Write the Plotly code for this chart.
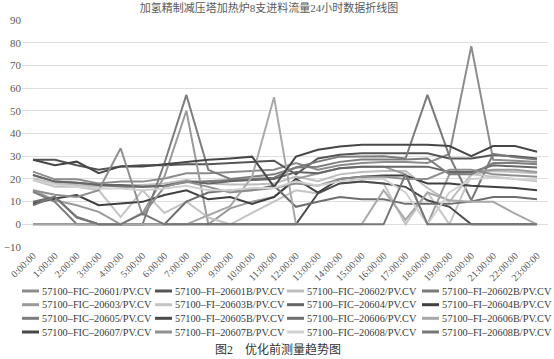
import plotly.graph_objects as go

# ---------------- data ----------------
hours = ["0:00:00", "1:00:00", "2:00:00", "3:00:00", "4:00:00", "5:00:00",
         "6:00:00", "7:00:00", "8:00:00", "9:00:00", "10:00:00", "11:00:00",
         "12:00:00", "13:00:00", "14:00:00", "15:00:00", "16:00:00", "17:00:00",
         "18:00:00", "19:00:00", "20:00:00", "21:00:00", "22:00:00", "23:00:00"]

series_names = [
    "57100–FIC–20601/PV.CV", "57100–FI–20601B/PV.CV", "57100–FIC–20602/PV.CV", "57100–FI–20602B/PV.CV",
    "57100–FIC–20603/PV.CV", "57100–FI–20603B/PV.CV", "57100–FIC–20604/PV.CV", "57100–FI–20604B/PV.CV",
    "57100–FIC–20605/PV.CV", "57100–FI–20605B/PV.CV", "57100–FIC–20606/PV.CV", "57100–FI–20606B/PV.CV",
    "57100–FIC–20607/PV.CV", "57100–FI–20607B/PV.CV", "57100–FIC–20608/PV.CV", "57100–FI–20608B/PV.CV",
]

FIC_20601 = [23.2, 19.8, 19.8, 18, 18.8, 18.8, 20.2, 22.5, 22.5, 23, 23.5, 24, 27, 24, 26, 27, 27.5, 27.5, 27, 31, 78.5, 28.4, 28, 27.5]
FI_20601B = [28.4, 28.4, 26, 24, 25.5, 26, 26, 26.5, 26.5, 27, 27.5, 28, 22, 29, 30.6, 31.3, 31.3, 31.3, 31.3, 29, 29, 30.5, 30, 29]
FIC_20602 = [20.2, 18, 17.3, 16.5, 17.3, 17.3, 18, 19.5, 18, 17.5, 17.5, 18, 21, 19, 22, 23, 23.5, 23.5, 16, 10, 22, 23.5, 23, 22.5]
FI_20602B = [21.7, 18.8, 18.3, 17.3, 16.5, 16.5, 17, 18.5, 19, 19.5, 20, 20.5, 25, 27.6, 29.8, 30, 30, 29, 57, 30, 10.6, 31, 29.5, 28.5]
FIC_20603 = [15, 10.6, 8.4, 5.5, 0, 5, 21, 50, 0, 7, 10, 12, 20, 22.5, 24.7, 25.4, 25.4, 22, 0, 22, 23, 24, 24, 23]
FI_20603B = [19.5, 16.5, 16.5, 15, 3.2, 15, 5, 10, 3, 0, 5, 10, 15, 13.6, 18, 18.8, 18, 0, 14, 0, 22, 21, 20, 19]
FIC_20604 = [21.7, 18.8, 18.3, 17.3, 17.3, 16.5, 17, 18.8, 18, 19, 19.5, 20, 23, 22.5, 24.7, 25.4, 25.4, 25.4, 25.4, 23, 23, 26, 25.5, 25]
FI_20604B = [9.2, 11.4, 12.9, 8.4, 9.2, 9.9, 12.9, 15, 11, 12, 9, 12, 20, 14, 20, 21, 21.5, 21.5, 18, 18, 17, 16.5, 16, 15]
FIC_20605 = [14.3, 9.9, 0, 0, 0, 0, 27, 57, 24, 20, 21, 22, 25, 25.4, 27.5, 28.5, 28.5, 28.5, 29, 22, 22, 27, 27, 26.5]
FI_20605B = [0, 0, 0, 0, 0, 0, 0, 0, 0, 0, 0, 0, 0, 13.6, 18, 18.8, 18, 16.5, 10.6, 7.7, 0, 0, 0, 0]
FIC_20606 = [9.9, 12.1, 3.2, 0, 0, 0, 0, 10, 14, 15, 15, 17, 7.7, 9.9, 12, 11, 11, 9, 9, 9, 10, 12, 12, 11]
FI_20606B = [0, 0, 0, 0, 0, 0, 0, 0, 4, 8, 21, 56, 0, 0, 0, 0, 15, 2, 14, 10.6, 9.9, 9.9, 4.7, 0]
FIC_20607 = [28.4, 26, 27.6, 22.5, 25.5, 25.5, 26.5, 27.6, 28.4, 29, 29.8, 16.5, 29.8, 32.8, 34.3, 35, 35, 35, 35, 34.5, 30, 34.5, 34.5, 32]
FI_20607B = [15, 13, 12, 15, 33.5, 4, 16.5, 18.8, 16.5, 14, 15, 16, 18, 17, 20, 21, 21, 20, 20, 24, 24, 22, 21.5, 21]
FIC_20608 = [19.5, 17.5, 16.5, 15.8, 15.8, 15, 15.8, 17, 15, 15, 16, 16, 19, 17, 19, 20, 20, 14, 0, 14, 20, 20.5, 20, 19.5]
FI_20608B = [8.4, 12.1, 3, 0, 0, 4.7, 0, 0, 0, 0, 0, 0, 0, 0, 0, 0, 0, 22, 0, 0, 0, 0, 0, 0]

series_values = [FIC_20601, FI_20601B, FIC_20602, FI_20602B,
                 FIC_20603, FI_20603B, FIC_20604, FI_20604B,
                 FIC_20605, FI_20605B, FIC_20606, FI_20606B,
                 FIC_20607, FI_20607B, FIC_20608, FI_20608B]

# ---------------- style ----------------
colors = ["#8c8c8c", "#555555", "#bdbdbd", "#7a7a7a",
          "#9a9a9a", "#c4c4c4", "#666666", "#3f3f3f",
          "#7d7d7d", "#4a4a4a", "#6e6e6e", "#a8a8a8",
          "#474747", "#8f8f8f", "#d0d0d0", "#777777"]

W, H = 554, 359
ML, MR, MT, MB = 22, 6, 20, 112
PW, PH = W - ML - MR, H - MT - MB
FONT = "Liberation Serif, Times New Roman, Noto Sans CJK SC, serif"

fig = go.Figure()
for name, vals, col in zip(series_names, series_values, colors):
    fig.add_trace(go.Scatter(x=hours, y=vals, mode="lines", name=name,
                             line=dict(color=col, width=2), showlegend=False))

# custom 4x4 legend (rows filled left to right)
text_px = [40, 173, 305, 440]
row_px = [291, 304.7, 318.3, 332]
shapes, annotations = [], []
for k, (name, col) in enumerate(zip(series_names, colors)):
    r, c = divmod(k, 4)
    x1 = (text_px[c] - 1 - ML) / PW
    x0 = (text_px[c] - 18 - ML) / PW
    yy = (MT + PH - row_px[r]) / PH
    shapes.append(dict(type="line", xref="paper", yref="paper", x0=x0, x1=x1, y0=yy, y1=yy,
                       line=dict(color=col, width=3)))
    annotations.append(dict(xref="paper", yref="paper", x=(text_px[c] - ML) / PW, y=yy,
                            xanchor="left", yanchor="middle", text=name, showarrow=False,
                            font=dict(size=10.3, color="#3a3a3a", family=FONT)))

annotations.append(dict(xref="paper", yref="paper", x=(278 - ML) / PW, y=(MT + PH - 349) / PH,
                        xanchor="center", yanchor="middle", showarrow=False,
                        text="图2　优化前测量趋势图",
                        font=dict(size=12, color="#333333", family=FONT)))

fig.update_layout(
    width=W, height=H,
    margin=dict(l=ML, r=MR, t=MT, b=MB, autoexpand=False),
    paper_bgcolor="white", plot_bgcolor="white",
    font=dict(family=FONT, color="#595959"),
    title=dict(text="加氢精制减压塔加热炉8支进料流量24小时数据折线图",
               x=269 / W, xanchor="center", y=1 - 8 / H, yanchor="middle",
               font=dict(size=11, color="#595959", family=FONT)),
    xaxis=dict(type="category", range=[-0.5, 23.5], tickangle=-45, automargin=False,
               tickfont=dict(size=10, color="#595959"), showgrid=False,
               showline=False, zeroline=False, ticks=""),
    yaxis=dict(range=[-10, 90], dtick=10, tick0=0, gridcolor="#dedede", gridwidth=1,
               zeroline=False, showline=False, ticks="", automargin=False,
               tickfont=dict(size=11, color="#595959")),
    shapes=shapes,
    annotations=annotations,
    showlegend=False,
)

fig.write_html("out.html", config={"displayModeBar": False},
               post_script="document.body.style.margin='0';document.body.style.padding='0';")
